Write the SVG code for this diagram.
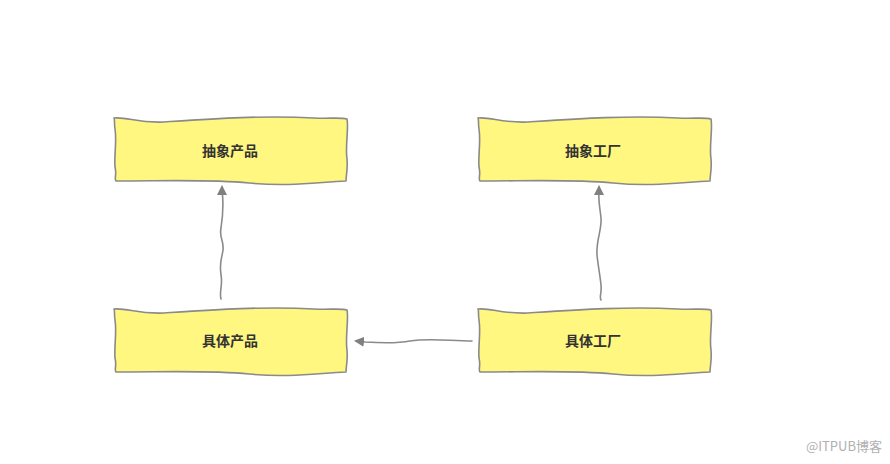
<svg xmlns="http://www.w3.org/2000/svg" width="890" height="464" viewBox="0 0 890 464">
<style>
.box{fill:#FFF780;stroke:#8a8a8a;stroke-width:1.6;stroke-linejoin:round}
.lbl{font-family:"Noto Sans CJK SC","Liberation Sans",sans-serif;font-size:14px;font-weight:bold;fill:#333;text-anchor:middle;dominant-baseline:central}
.edge{fill:none;stroke:#8a8a8a;stroke-width:1.6;stroke-linecap:round}
</style>
<defs>
<path id="shape" d="M0,1 C15,0 22,6 50,5 C95,2 150,-2 200,1 C215,2 226,0 233,2 C235,10 231,30 233,42 C234,52 232,58 232,64 C205,65 175,70 135,66 C95,62 50,64 2,64 C0,62 3,58 1,50 C0,38 3,25 1,12 C0,6 1,3 0,1 Z"/>
<marker id="arr" viewBox="0 0 10 10" refX="8" refY="5" markerWidth="10" markerHeight="10" markerUnits="userSpaceOnUse" orient="auto">
<path d="M0,0 L10,5 L0,10 Z" fill="#808080"/>
</marker>
</defs>
<rect width="890" height="464" fill="#fff"/>
<g id="connectors">
<path class="edge" d="M221,299 C219,292 223,285 221,275 C219,262 222,258 223,250 C224,240 219,238 221,228 C223,215 224,205 222,190 L222,187" marker-end="url(#arr)"/>
<path class="edge" d="M601,300 C599,297 602,293 601,285 C600,275 598,265 597,255 C596,240 602,230 601,218 C600,208 598,200 599,190 L599,187" marker-end="url(#arr)"/>
<path class="edge" d="M472,341 C450,341 430,338 410,341 C395,344 380,343 365,342 L356,341" marker-end="url(#arr)"/>
</g>
<g id="abstract-product">
<use href="#shape" class="box" transform="translate(114,117)"/>
<text class="lbl" x="230" y="150">抽象产品</text>
</g>
<g id="abstract-factory">
<use href="#shape" class="box" transform="translate(478,117)"/>
<text class="lbl" x="593" y="150">抽象工厂</text>
</g>
<g id="concrete-product">
<use href="#shape" class="box" transform="translate(114,308)"/>
<text class="lbl" x="230" y="340">具体产品</text>
</g>
<g id="concrete-factory">
<use href="#shape" class="box" transform="translate(478,308)"/>
<text class="lbl" x="593" y="340">具体工厂</text>
</g>
<text x="882" y="451" font-family="Noto Sans CJK SC,Liberation Sans,sans-serif" font-size="13" fill="#b0b0b0" text-anchor="end">@ITPUB博客</text>
</svg>
